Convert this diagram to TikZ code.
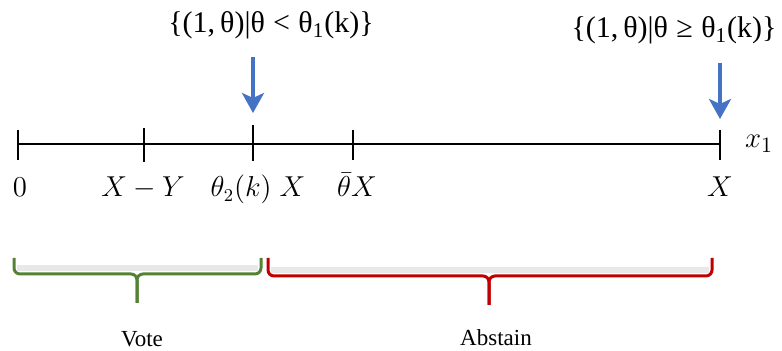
\documentclass[tikz,border=0pt]{standalone}
\usepackage{fontspec}
\setmainfont{Liberation Serif}
\definecolor{arrowblue}{RGB}{68,114,196}
\definecolor{bracegreen}{RGB}{84,130,53}
\definecolor{bracered}{RGB}{192,0,0}
\usetikzlibrary{arrows.meta,positioning}

\begin{document}
\begin{tikzpicture}[x=0.5pt, y=-0.5pt,
  axisline/.style={black, line width=1.4pt},
  pointer/.style={-{Stealth[length=10pt,width=11pt,inset=2.5pt]}, arrowblue, line width=2pt},
  setlabel/.style={font=\fontsize{15}{18}\selectfont, inner sep=0pt, anchor=base},
  axislabel/.style={font=\fontsize{13.5}{16}\selectfont, inner sep=0pt, anchor=base},
  bracket/.style={line width=1.5pt, rounded corners=3pt},
  bracketshade/.style={gray!18, line width=3pt},
  rangelabel/.style={font=\fontsize{11.5}{14}\selectfont, inner sep=0pt, anchor=base}]

\useasboundingbox (0,0) rectangle (782,351);

% Axis and ticks
\coordinate (t0) at (18,144);
\coordinate (tXY) at (144,144);
\coordinate (tth) at (253,144);
\coordinate (tbar) at (353,144);
\coordinate (tX) at (720,144);
\draw[axisline] (t0) -- (tX);
\draw[axisline] (t0) ++(0,-14) -- ++(0,30);
\draw[axisline] (tXY) ++(0,-16) -- ++(0,34);
\draw[axisline] (tth) ++(0,-19) -- ++(0,36);
\draw[axisline] (tbar) ++(0,-14) -- ++(0,30);
\draw[axisline] (tX) ++(0,-14) -- ++(0,30);

\node[axislabel] (l0) at (20,197) {$0$};
\node[axislabel] (lXY) at (143,197) {$X-Y$};
\node[axislabel] (lth) at (258,197) {$\theta_2(k)\;X$};
\node[axislabel] (lbar) at (357,197) {$\bar{\theta}X$};
\node[axislabel] (lX) at (720,197) {$X$};
\node[axislabel, font=\fontsize{15}{18}\selectfont] (lx1) at (759,148) {$x_1$};

% Sets and arrows
\node[setlabel] (s1) at (271,33) {\{(1,\,θ)|θ\;<\;θ\textsubscript{1}(k)\}};
\node[setlabel] (s2) at (674,38) {\{(1,\,θ)|θ\;≥\;θ\textsubscript{1}(k)\}};
\coordinate (a1) at (253,57);
\coordinate (p1) at (253,113);
\coordinate (a2) at (720,63);
\coordinate (p2) at (720,119);
\draw[pointer] (a1) -- (p1);
\draw[pointer] (a2) -- (p2);

% Brackets
\coordinate (vl) at (14,258);
\coordinate (vr) at (261,258);
\coordinate (vtip) at (137,303);
\coordinate (al) at (268,258);
\coordinate (ar) at (712,258);
\coordinate (atip) at (489,305);
\draw[bracketshade] (17,268) -- (258,268);
\draw[bracketshade] (271,270) -- (709,270);
\draw[bracket, bracegreen] (vl) -- (14,274) -- (137,274) -- (vtip);
\draw[bracket, bracegreen] (vr) -- (261,274) -- (137,274) -- (vtip);
\draw[bracket, bracered] (al) -- (268,276) -- (489,276) -- (atip);
\draw[bracket, bracered] (ar) -- (712,276) -- (489,276) -- (atip);

\node[rangelabel] (vote) at (142,347) {Vote};
\node[rangelabel] (abstain) at (496,346) {Abstain};

\end{tikzpicture}
\end{document}
